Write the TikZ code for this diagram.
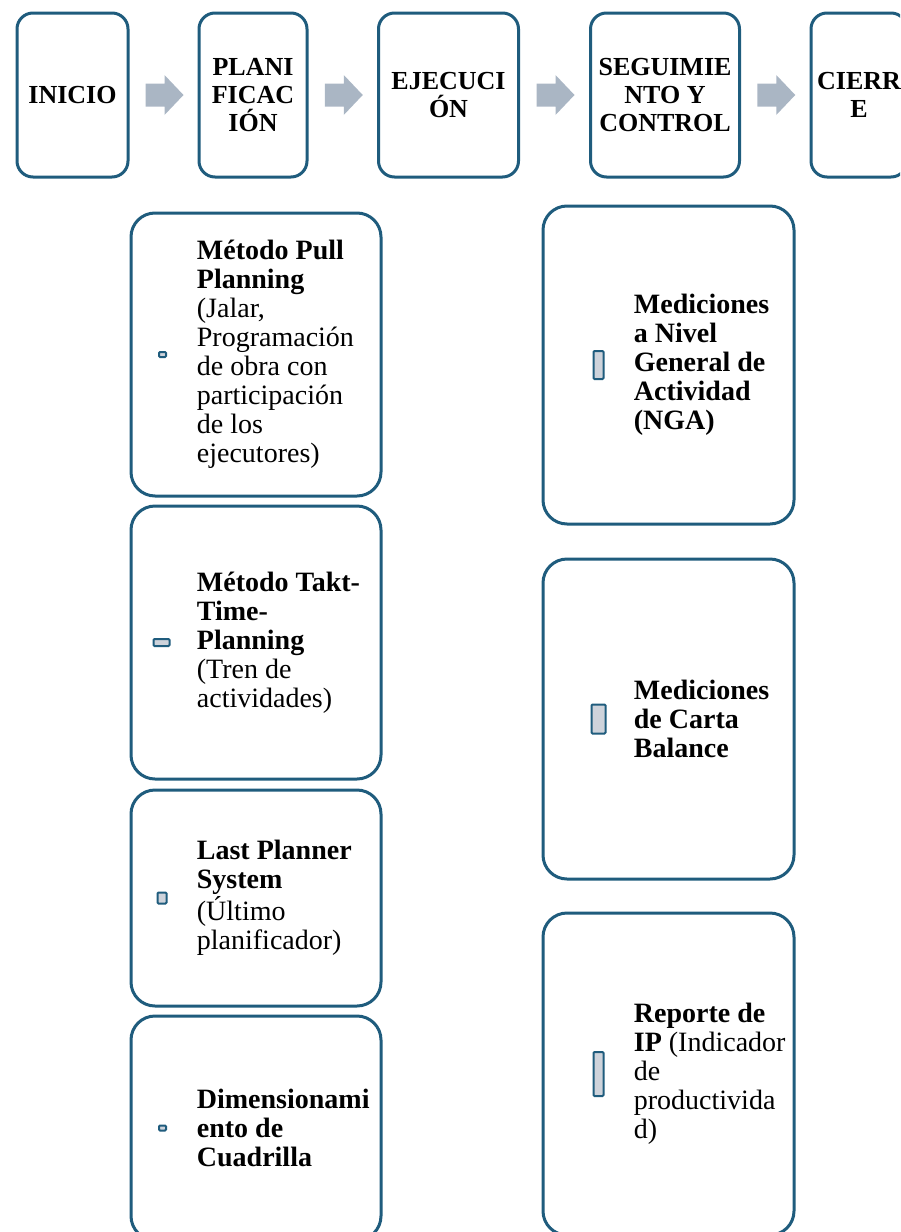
\documentclass[tikz,border=0pt]{standalone}
\usepackage{fontspec}
\setmainfont{Liberation Serif}
\usepackage{xcolor}
\usepackage{tikz}
\usetikzlibrary{calc}
\definecolor{azulborde}{RGB}{31,92,125}
\definecolor{grisflecha}{RGB}{170,182,196}
\definecolor{grisvineta}{RGB}{206,211,219}

\begin{document}
\begin{tikzpicture}[x=0.5pt,y=-0.5pt,
  fase/.style={draw=azulborde, line width=1.5pt, rounded corners=8pt, fill=white, align=center, inner sep=0pt, minimum height=82pt, font=\fontsize{13}{14}\selectfont\bfseries},
  caja/.style={draw=azulborde, line width=1.5pt, rounded corners=12pt, fill=white, inner sep=0pt},
  vineta/.style={draw=azulborde, line width=1pt, rounded corners=0.5pt, fill=grisvineta, inner sep=0pt},
  texto/.style={anchor=west, align=left, inner sep=0pt, font=\fontsize{14}{14.5}\selectfont},
  flecha/.style={fill=grisflecha}]
\clip (0,0) rectangle (900,1232);

\node[fase, minimum width=55.5pt] (inicio) at (72.5,95) {INICIO};
\node[fase, minimum width=54pt] (planif) at (253,95) {PLANI\\FICAC\\IÓN};
\node[fase, minimum width=70pt] (ejec) at (448.5,95) {EJECUCI\\ÓN};
\node[fase, minimum width=74.5pt] (seguim) at (665,95) {SEGUIMIE\\NTO Y\\CONTROL};
\node[fase, minimum width=48pt] (cierre) at (859,95) {CIERR\\E};

\coordinate (f1) at ($(inicio.east)!0.5!(planif.west)$);
\coordinate (f2) at ($(planif.east)!0.5!(ejec.west)$);
\coordinate (f3) at ($(ejec.east)!0.5!(seguim.west)$);
\coordinate (f4) at ($(seguim.east)!0.5!(cierre.west)$);
\fill[flecha, shift={(f1)}] (-18,-11.5) -- (1,-11.5) -- (1,-20) -- (20,0) -- (1,20) -- (1,11.5) -- (-18,11.5) -- cycle;
\fill[flecha, shift={(f2)}] (-18,-11.5) -- (1,-11.5) -- (1,-20) -- (20,0) -- (1,20) -- (1,11.5) -- (-18,11.5) -- cycle;
\fill[flecha, shift={(f3)}] (-18,-11.5) -- (1,-11.5) -- (1,-20) -- (20,0) -- (1,20) -- (1,11.5) -- (-18,11.5) -- cycle;
\fill[flecha, shift={(f4)}] (-18,-11.5) -- (1,-11.5) -- (1,-20) -- (20,0) -- (1,20) -- (1,11.5) -- (-18,11.5) -- cycle;

\node[caja, minimum width=125pt, minimum height=141.5pt] (l1) at (256,354.5) {};
\node[caja, minimum width=125pt, minimum height=136.5pt] (l2) at (256,642.5) {};
\node[caja, minimum width=125pt, minimum height=108pt] (l3) at (256,898) {};
\node[caja, minimum width=125pt, minimum height=112pt] (l4) at (256,1128) {};

\node[caja, minimum width=125.5pt, minimum height=159pt] (r1) at (668.5,365) {};
\node[caja, minimum width=125.5pt, minimum height=160pt] (r2) at (668.5,719) {};
\node[caja, minimum width=125.5pt, minimum height=161pt] (r3) at (668.5,1074) {};

\node[vineta, minimum width=3.5pt, minimum height=2.5pt] (v1) at ($(l1.west)+(33,0)$) {};
\node[vineta, minimum width=8pt, minimum height=3.5pt] (v2) at ($(l2.west)+(32,0)$) {};
\node[vineta, minimum width=4.5pt, minimum height=5.5pt] (v3) at ($(l3.west)+(32.5,0)$) {};
\node[vineta, minimum width=3.5pt, minimum height=2.5pt] (v4) at ($(l4.west)+(33,0)$) {};
\node[vineta, minimum width=5pt, minimum height=14pt] (v5) at ($(r1.west)+(57,0)$) {};
\node[vineta, minimum width=7pt, minimum height=14.5pt] (v6) at ($(r2.west)+(57,0)$) {};
\node[vineta, minimum width=5pt, minimum height=22pt] (v7) at ($(r3.west)+(57,0)$) {};

\node[texto] (t1) at ($(l1.west)+(67,0)$) {{\bfseries Método Pull}\\{\bfseries Planning}\\(Jalar,\\Programación\\de obra con\\participación\\de los\\ejecutores)};
\node[texto] (t2) at ($(l2.west)+(67,0)$) {{\bfseries Método Takt-}\\{\bfseries Time-}\\{\bfseries Planning}\\(Tren de\\actividades)};
\node[texto] (t3) at ($(l3.west)+(67,0)$) {{\bfseries Last Planner}\\{\bfseries System}\\(Último\\planificador)};
\node[texto] (t4) at ($(l4.west)+(67,0)$) {{\bfseries Dimensionami}\\{\bfseries ento de}\\{\bfseries Cuadrilla}};
\node[texto] (t5) at ($(r1.west)+(92,0)$) {{\bfseries Mediciones}\\{\bfseries a Nivel}\\{\bfseries General de}\\{\bfseries Actividad}\\{\bfseries (NGA)}};
\node[texto] (t6) at ($(r2.west)+(92,0)$) {{\bfseries Mediciones}\\{\bfseries de Carta}\\{\bfseries Balance}};
\node[texto] (t7) at ($(r3.west)+(92,0)$) {{\bfseries Reporte de}\\{\bfseries IP} (Indicador\\de\\productivida\\d)};

\end{tikzpicture}
\end{document}
